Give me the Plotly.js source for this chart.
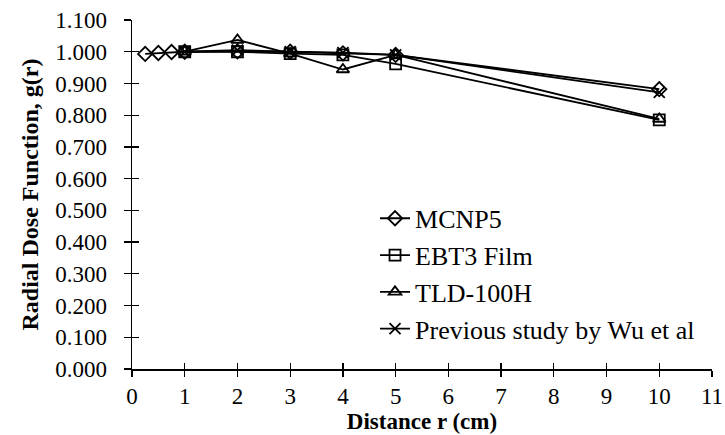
<!DOCTYPE html>
<html><head><meta charset="utf-8">
<script src="https://cdn.plot.ly/plotly-3.0.1.min.js"></script>
<style>body{margin:0;background:#fff}#c{width:725px;height:435px}</style>
</head><body><div id="c"></div>
<script>
const mcnpX = [0.25, 0.5, 0.75, 1, 2, 3, 4, 5, 10];
const mcnpY = [0.993, 0.996, 0.999, 1.000, 1.001, 1.000, 0.995, 0.990, 0.882];
const ebtX = [1, 2, 3, 4, 5, 10];
const ebtY = [1.000, 1.000, 0.994, 0.990, 0.962, 0.785];
const tldX = [1, 2, 3, 4, 5, 10];
const tldY = [1.000, 1.037, 0.994, 0.944, 0.990, 0.788];
const wuX = [1, 2, 3, 4, 5, 10];
const wuY = [1.000, 1.005, 1.000, 0.997, 0.990, 0.872];
const names = ["MCNP5", "EBT3 Film", "TLD-100H", "Previous study by Wu et al"];
const xTicks = [0,1,2,3,4,5,6,7,8,9,10,11];
const yTicks = [0,0.1,0.2,0.3,0.4,0.5,0.6,0.7,0.8,0.9,1.0,1.1];

const fam = 'Liberation Serif';
const tickFont = {family: fam, color: "#000", size: 23};
const xTitleFont = {family: fam, color: "#000", size: 23};
const yTitleFont = {family: fam, color: "#000", size: 24};
const legFont = {family: fam, color: "#000", size: 26};
function tr(x, y, name, sym, g) {
  return {x: x, y: y, name: name, type: "scatter", mode: "lines+markers", legendgroup: g,
    line: {color: "#000", width: 1.8},
    marker: {symbol: sym, size: 11, color: "#000", line: {color: "#000", width: 1.8}}};
}
const data = [
  tr(mcnpX, mcnpY, names[0], "diamond-open", "a"),
  tr(ebtX, ebtY, names[1], "square-open", "b"),
  tr(tldX, tldY, names[2], "triangle-up-open", "c"),
  tr(wuX, wuY, names[3], "x-thin-open", "d"),
  {x: [null], y: [null], xaxis: "x2", yaxis: "y2", type: "scatter", mode: "markers", showlegend: false, hoverinfo: "skip"}
];
const axCommon = {showgrid: false, zeroline: false, tickcolor: "#000", tickwidth: 1.3};
const layout = {
  width: 725, height: 435,
  margin: {l: 132, r: 13, t: 20, b: 66},
  paper_bgcolor: "#fff", plot_bgcolor: "#fff",
  font: tickFont,
  showlegend: true,
  legend: {x: 0.419, y: 0.499, xanchor: "left", yanchor: "top", font: legFont,
    bgcolor: "rgba(0,0,0,0)", traceorder: "grouped", tracegroupgap: 0, itemwidth: 30},
  xaxis: Object.assign({range: [0, 11], tickvals: xTicks, ticktext: xTicks.map(String), ticks: "outside", ticklen: 6,
    showline: true, linecolor: "#000", linewidth: 1.5,
    tickfont: tickFont, ticklabelstandoff: 0,
    title: {text: "<b>Distance r (cm)</b>", font: xTitleFont, standoff: 2}}, axCommon),
  yaxis: Object.assign({range: [0, 1.1], tickvals: yTicks, ticktext: yTicks.map(v => v.toFixed(3)), ticks: "outside", ticklen: 7,
    showline: true, linecolor: "#000", linewidth: 1.5,
    tickfont: tickFont, ticklabelstandoff: 12,
    title: {text: "<b>Radial Dose Function, g(r)</b>", font: yTitleFont, standoff: 10}}, axCommon),
  xaxis2: Object.assign({range: [0, 11], tickvals: xTicks, showticklabels: false, ticks: "inside", ticklen: 6,
    overlaying: "x", anchor: "y2", side: "bottom", showline: false}, axCommon),
  yaxis2: Object.assign({range: [0, 1.1], tickvals: yTicks, showticklabels: false, ticks: "inside", ticklen: 7,
    overlaying: "y", anchor: "x2", side: "left", showline: false}, axCommon)
};
const gd = document.getElementById("c");
function fixFonts() {
  gd.querySelectorAll(".xtick text, .ytick text, .legendtext, .xtitle, .ytitle").forEach(el => {
    el.style.fontFamily = "'Liberation Serif'";
  });
}
Plotly.newPlot(gd, data, layout, {displayModeBar: false, staticPlot: true}).then(() => {
  fixFonts();
  gd.on("plotly_afterplot", fixFonts);
});
</script></body></html>
